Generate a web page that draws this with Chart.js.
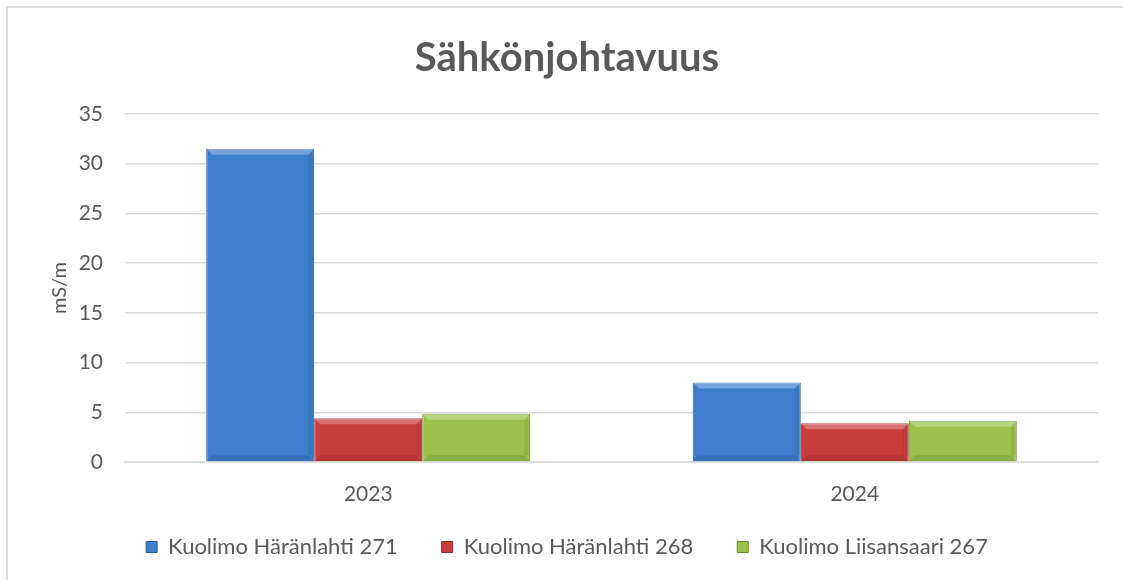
<!DOCTYPE html>
<html>
<head>
<meta charset="utf-8">
<script src="https://cdn.jsdelivr.net/npm/chart.js@4"></script>
<style>
  body { margin: 0; background: #fff; overflow: hidden; }
  #frame { position: absolute; left: 6px; top: 6px; width: 1200px; height: 700px; border: 2px solid #dcdcdc; box-sizing: border-box; }
  #wrap { position: absolute; left: 0; top: 0; width: 1123px; height: 580px; }
</style>
</head>
<body>
<div id="frame"></div>
<div id="wrap"><canvas id="chart1" width="1123" height="580"></canvas></div>
<script>
// Sähkönjohtavuus, mS/m
var years = ["2023", "2024"];
var seriesNames = ["Kuolimo Häränlahti 271", "Kuolimo Häränlahti 268", "Kuolimo Liisansaari 267"];
var haranlahti271 = [31.5, 8.0];
var haranlahti268 = [4.4, 3.9];
var liisansaari267 = [4.85, 4.15];

var txtColor = "#595959";
var fontName = "Lato, 'Open Sans', sans-serif";

// light bevel on top of each bar, like the office chart style
var bevel = {
    id: 'bevel',
    afterLayout: function(chart) {
        // x axis box is kept short, let its labels hang below it without clipping
        chart.scales.x.bottom += 40;
    },
    afterDatasetsDraw: function(chart) {
        var ctx = chart.ctx;
        chart.data.datasets.forEach(function(ds, i) {
            chart.getDatasetMeta(i).data.forEach(function(bar) {
                var p = bar.getProps(['x', 'y', 'width', 'base'], true);
                var l = p.x - p.width / 2, r = p.x + p.width / 2;
                var t = p.y, b = p.base, e = 6;
                ctx.save();
                ctx.fillStyle = 'rgba(255,255,255,0.28)';
                ctx.beginPath();
                ctx.moveTo(l, t); ctx.lineTo(r, t); ctx.lineTo(r - e, t + e); ctx.lineTo(l + e, t + e);
                ctx.closePath(); ctx.fill();
                ctx.fillStyle = 'rgba(0,0,0,0.10)';
                ctx.beginPath();
                ctx.moveTo(l, b); ctx.lineTo(r, b); ctx.lineTo(r - e, b - e); ctx.lineTo(l + e, b - e);
                ctx.closePath(); ctx.fill();
                ctx.fillStyle = 'rgba(0,0,0,0.06)';
                ctx.fillRect(r - e, t + e, e, b - t - 2 * e);
                ctx.restore();
            });
        });
    }
};

new Chart(document.getElementById("chart1"), {
    type: 'bar',
    data: {
        labels: years,
        datasets: [
            {
                label: seriesNames[0],
                data: haranlahti271,
                backgroundColor: "#3d7ecf",
                borderColor: "#2b5a94",
                borderWidth: 1
            },
            {
                label: seriesNames[1],
                data: haranlahti268,
                backgroundColor: "#c83d3b",
                borderColor: "#8e2b2a",
                borderWidth: 1
            },
            {
                label: seriesNames[2],
                data: liisansaari267,
                backgroundColor: "#9cc14b",
                borderColor: "#6a8a2f",
                borderWidth: 1
            }
        ]
    },
    options: {
        responsive: false,
        animation: false,
        datasets: {
            bar: { categoryPercentage: 0.666, barPercentage: 1.0 }
        },
        layout: { padding: { left: 36, right: 25, top: 34, bottom: 12 } },
        plugins: {
            title: {
                display: true,
                text: 'Sähkönjohtavuus',
                color: txtColor,
                font: { family: fontName, size: 40, weight: 'bold' },
                padding: { top: 0, bottom: 32 }
            },
            legend: {
                position: 'bottom',
                labels: {
                    color: txtColor,
                    font: { family: fontName, size: 22 },
                    boxWidth: 11,
                    boxHeight: 11,
                    padding: 44
                }
            },
            tooltip: { enabled: false }
        },
        scales: {
            y: {
                min: 0,
                max: 35,
                afterFit: function(scale) { scale.width = 89; },
                ticks: { stepSize: 5, color: txtColor, font: { family: fontName, size: 21 }, padding: 22 },
                grid: { color: "#d9d9d9", lineWidth: 1.5, drawTicks: false },
                border: { display: false },
                title: {
                    display: true,
                    text: 'mS/m',
                    color: txtColor,
                    font: { family: fontName, size: 20 },
                    padding: { top: 12, bottom: 2 }
                }
            },
            x: {
                afterFit: function(scale) { scale.height = 30; },
                ticks: { color: txtColor, font: { family: fontName, size: 21 }, padding: 12 },
                grid: { display: false },
                border: { color: "#d9d9d9", width: 1.5 }
            }
        }
    },
    plugins: [bevel]
});
</script>
</body>
</html>
